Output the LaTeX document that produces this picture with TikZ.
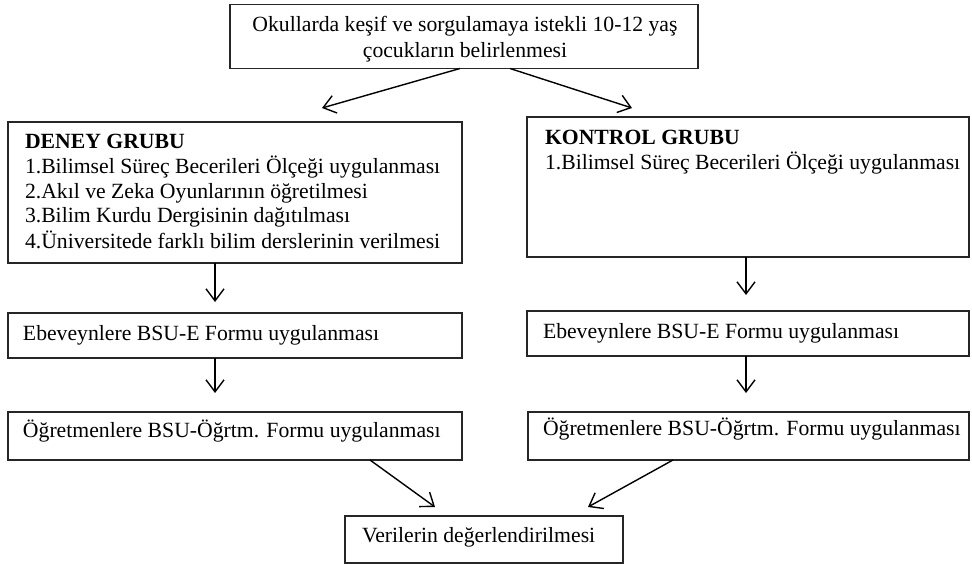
\documentclass[tikz,border=0pt]{standalone}
\usepackage{fontspec}
\setmainfont{Liberation Serif}
\usetikzlibrary{arrows.meta}
\begin{document}
\begin{tikzpicture}[x=1pt,y=-1pt,
  box/.style={draw=black!85,line width=1.1pt,rectangle,inner sep=0pt,outer sep=0pt},
  txt/.style={inner sep=0pt,outer sep=0pt,anchor=base west,align=left,font=\fontsize{21.7}{25}\selectfont},
  arr/.style={draw=black,line width=1.4pt,-{Straight Barb[length=12pt,width=18pt,line width=1.4pt]}}]
\useasboundingbox (0,0) rectangle (972,564);
% boxes
\node[box,minimum width=468pt,minimum height=64pt] (top) at (464,36.5) {};
\node[box,minimum width=454pt,minimum height=141pt] (deney) at (235,192.5) {};
\node[box,minimum width=442pt,minimum height=140pt] (kontrol) at (748,187) {};
\node[box,minimum width=454pt,minimum height=45pt] (eb1) at (235,335.5) {};
\node[box,minimum width=442pt,minimum height=45pt] (eb2) at (748,333.5) {};
\node[box,minimum width=454pt,minimum height=48pt] (og1) at (235,436) {};
\node[box,minimum width=441pt,minimum height=48pt] (og2) at (748.5,436) {};
\node[box,minimum width=278pt,minimum height=47pt] (ver) at (484,539.5) {};
% texts (base anchor = baseline of last line)
\node[txt,anchor=base,align=center,font=\fontsize{21.7}{26}\selectfont] (ttop) at (465,58) {Okullarda keşif ve sorgulamaya istekli 10-12 yaş\\çocukların belirlenmesi};
\node[txt] (tdeney) at (25,248) {\textbf{DENEY GRUBU}\\1.Bilimsel Süreç Becerileri Ölçeği uygulanması\\2.Akıl ve Zeka Oyunlarının öğretilmesi\\3.Bilim Kurdu Dergisinin dağıtılması\\4.Üniversitede farklı bilim derslerinin verilmesi};
\node[txt] (tkontrol) at (545,170) {\textbf{KONTROL GRUBU}\\1.Bilimsel Süreç Becerileri Ölçeği uygulanması};
\node[txt] (teb1) at (23,340) {Ebeveynlere BSU-E Formu uygulanması};
\node[txt] (teb2) at (543,338) {Ebeveynlere BSU-E Formu uygulanması};
\node[txt] (tog1) at (23,437) {Öğretmenlere BSU-Öğrtm. Formu uygulanması};
\node[txt] (tog2) at (543,435) {Öğretmenlere BSU-Öğrtm. Formu uygulanması};
\node[txt] (tver) at (362,542) {Verilerin değerlendirilmesi};
% arrow tips
\coordinate (tipL) at (322,108);
\coordinate (tipR) at (632,108);
\coordinate (tipBL) at (435,507);
\coordinate (tipBR) at (588,507);
% connectors
\draw[arr] ([xshift=-4pt]top.south) -- (tipL);
\draw[arr] ([xshift=46pt]top.south) -- (tipR);
\draw[arr,shorten >=11pt] ([xshift=-20pt]deney.south) -- ([xshift=-20pt]eb1.north);
\draw[arr,shorten >=19pt] ([xshift=-20pt]eb1.south) -- ([xshift=-20pt]og1.north);
\draw[arr,shorten >=16pt] ([xshift=-2pt]kontrol.south) -- ([xshift=-2pt]eb2.north);
\draw[arr,shorten >=19pt] ([xshift=-2pt]eb2.south) -- ([xshift=-2.5pt]og2.north);
\draw[arr] ([xshift=135pt]og1.south) -- (tipBL);
\draw[arr] ([xshift=-75.5pt]og2.south) -- (tipBR);
\end{tikzpicture}
\end{document}
